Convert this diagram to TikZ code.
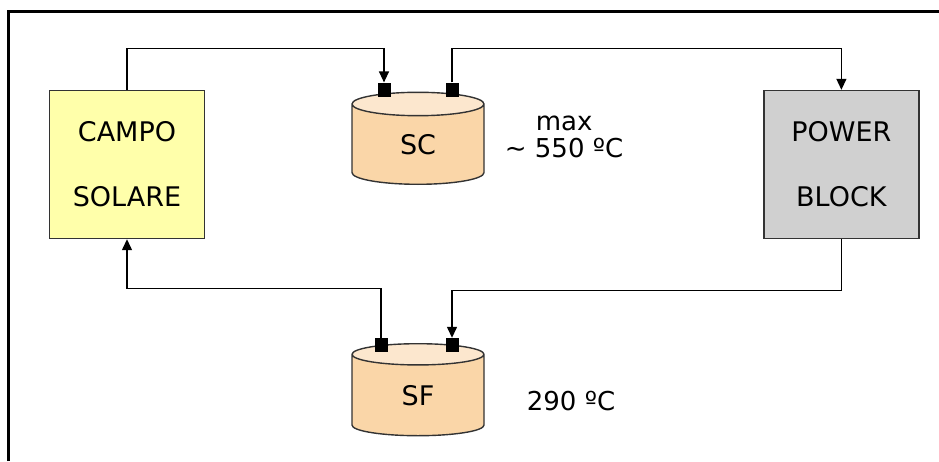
\documentclass[tikz,border=0pt]{standalone}
\usepackage{fontspec}
\setmainfont{DejaVu Sans}
\usetikzlibrary{arrows.meta, positioning, shapes.geometric}
\definecolor{campofill}{RGB}{255,255,170}
\definecolor{powerfill}{RGB}{208,208,208}
\definecolor{tankbody}{RGB}{250,214,168}
\definecolor{tanktop}{RGB}{252,231,206}

\begin{document}
\begin{tikzpicture}[
        x=1pt, y=1pt,
        font=\fontsize{27}{65}\selectfont,
        >={Triangle[length=11pt, width=10pt]},
        blk/.style={draw=black!80, line width=1.4pt, align=center, minimum width=155pt, minimum height=148pt, inner sep=0pt},
        tank/.style={cylinder, shape border rotate=90, draw=black!80, line width=1.4pt, aspect=0.65, minimum width=132pt, minimum height=92pt, cylinder uses custom fill, cylinder body fill=tankbody, cylinder end fill=tanktop, inner sep=0pt},
        port/.style={fill=black, minimum width=13pt, minimum height=14pt, inner sep=0pt},
        pipe/.style={line width=1.3pt},
        lbl/.style={font=\fontsize{26}{27}\selectfont, align=center, inner sep=0pt}
    ]
        \useasboundingbox (0,0) rectangle (939,461);
        % --- cornice ---
        \draw[line width=3pt] (8,0) -- (8,449) -- (939,449);

        % --- blocchi ---
        \node[blk, fill=campofill] (campo) at (127,296.5) {CAMPO\\SOLARE};
        \node[blk, fill=powerfill, right=558pt of campo] (power) {POWER\\BLOCK};

        % --- serbatoi ---
        \node[tank] (sc) at (418,316.5) {SC};
        \node[tank, below=158pt of sc] (sf) {SF};
        \node[port] (scin) at ([xshift=-34pt, yshift=2pt]sc.north) {};
        \node[port] (scout) at ([xshift=34pt, yshift=2pt]sc.north) {};
        \node[port] (sfout) at ([xshift=-37pt, yshift=-2pt]sf.north) {};
        \node[port] (sfin) at ([xshift=34pt, yshift=-2pt]sf.north) {};

        \node[lbl, right=20pt of sc, yshift=8pt] (tmax) {max\\\textasciitilde{} 550 ºC};
        \node[lbl, right=42pt of sf, yshift=-6pt] (tmin) {290 ºC};

        % --- circuito ---
        \draw[pipe, ->] (campo.north) -- ++(0,41.5pt) -| (scin.north);
        \draw[pipe, ->] (scout.north) -- ++(0,34pt) -| (power.north);
        \draw[pipe, ->] (power.south) -- ++(0,-51pt) -| (sfin.north);
        \draw[pipe, ->] (sfout.north) -- ++(0,49.5pt) -| (campo.south);
    \end{tikzpicture}
\end{document}
